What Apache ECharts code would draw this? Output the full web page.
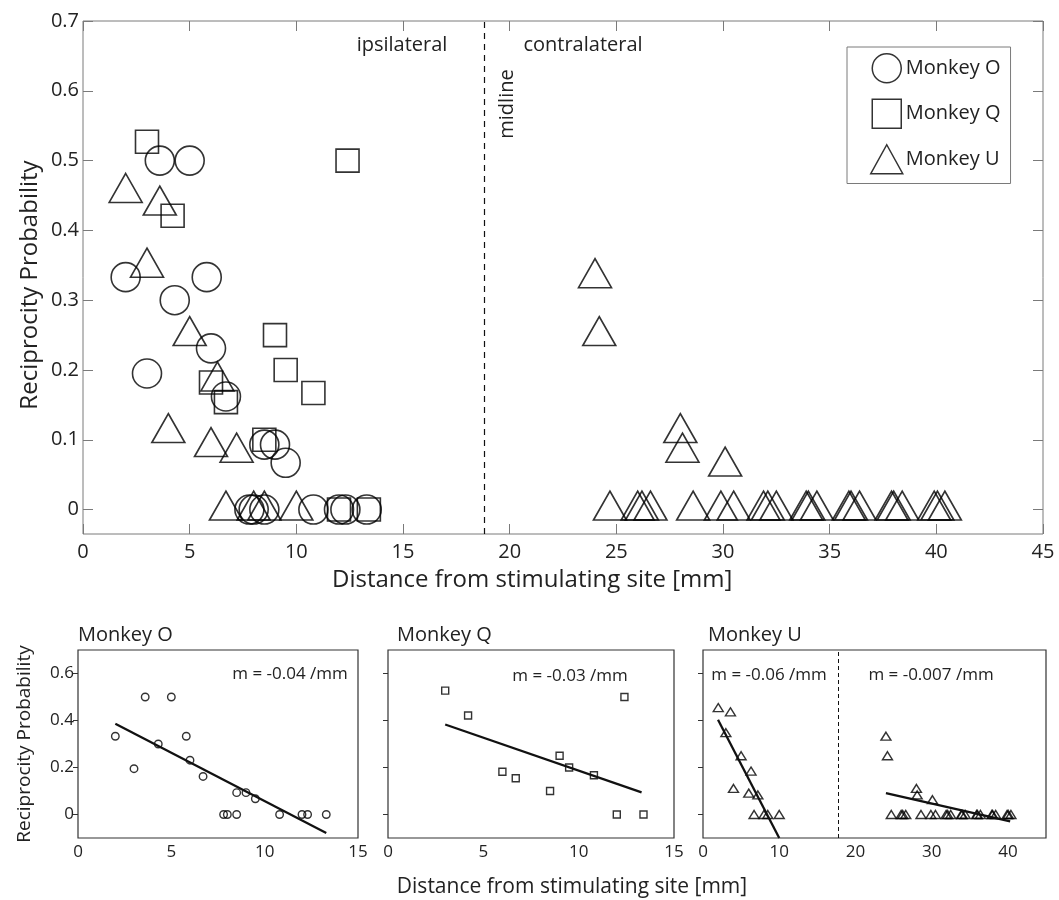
<!DOCTYPE html>
<html>
<head>
<meta charset="utf-8">
<title>Reciprocity probability vs. distance</title>
<script src="https://cdn.jsdelivr.net/npm/echarts@6/dist/echarts.min.js"></script>
<style>
  html, body { margin: 0; padding: 0; background: #fff; }
  #chart { width: 1059px; height: 900px; }
</style>
</head>
<body>
<div id="chart"></div>
<script>
// ---- Data: distance from stimulating site [mm] and reciprocity probability ----
const monkeyO_x = [3.6, 5.0, 2.0, 5.8, 4.3, 6.0, 3.0, 6.7, 8.5, 9.0, 9.5, 7.8, 8.0, 8.5, 10.8, 12.0, 12.3, 13.3];
const monkeyO_y = [0.5, 0.5, 0.333, 0.333, 0.3, 0.231, 0.195, 0.162, 0.093, 0.093, 0.067, 0, 0, 0, 0, 0, 0, 0];

const monkeyQ_x = [3.0, 4.2, 12.4, 9.0, 9.5, 10.8, 6.0, 6.7, 8.5, 12.0, 13.4];
const monkeyQ_y = [0.527, 0.421, 0.5, 0.25, 0.2, 0.167, 0.182, 0.154, 0.1, 0, 0];

// Monkey U: ipsilateral then contralateral sites
const monkeyU_x = [2.0, 3.6, 3.0, 5.0, 6.3, 4.0, 6.0, 7.2, 6.7, 8.0, 8.5, 10.0,
                   24.0, 24.2, 28.0, 28.1, 30.1,
                   24.7, 26.0, 26.2, 26.6, 28.6, 29.9, 30.5, 31.9, 32.1, 32.5, 33.9, 34.0, 34.4,
                   35.9, 36.0, 36.4, 37.9, 38.0, 38.4, 39.9, 40.05, 40.4];
const monkeyU_y = [0.455, 0.437, 0.348, 0.25, 0.185, 0.111, 0.091, 0.083, 0, 0, 0, 0,
                   0.333, 0.25, 0.111, 0.083, 0.063,
                   0, 0, 0, 0, 0, 0, 0, 0, 0, 0, 0, 0, 0,
                   0, 0, 0, 0, 0, 0, 0, 0, 0];

// Linear fits (end points of each fitted segment)
const fitO_x = [2.0, 13.3];   const fitO_y = [0.386, -0.079];
const fitQ_x = [3.0, 13.3];   const fitQ_y = [0.383, 0.094];
const fitUi_x = [1.97, 10.0]; const fitUi_y = [0.403, -0.1];
const fitUc_x = [24.0, 40.3]; const fitUc_y = [0.091, -0.029];

const slopeLabels = ['m = -0.04 /mm', 'm = -0.03 /mm', 'm = -0.06 /mm', 'm = -0.007 /mm'];
const monkeyNames = ['Monkey O', 'Monkey Q', 'Monkey U'];
const xTitle = 'Distance from stimulating site [mm]';
const yTitle = 'Reciprocity Probability';

const midlineMain = 18.8;
const midlineU = 17.8;

const mainYTicks = [0, 0.1, 0.2, 0.3, 0.4, 0.5, 0.6, 0.7];
const smallYTicks = [0, 0.2, 0.4, 0.6];
const smallUXTicks = [0, 10, 20, 30, 40];

// ---- helpers ----
const FONT = 'Open Sans';
const TXT = '#222';
const pairs = (xs, ys) => xs.map((x, i) => [x, ys[i]]);
const hollow = (w) => ({ color: 'transparent', borderColor: '#000', borderWidth: w });
const font = (px) => px + 'px "Open Sans"';
const label = (text, x, y, px, extra, align) => Object.assign({
  type: 'text', x: x, y: y,
  style: { text: text, font: font(px), fill: TXT, align: align || 'center', verticalAlign: 'middle' }
}, extra || {});

const chart = echarts.init(document.getElementById('chart'), null, { renderer: 'canvas' });

const axisGray = '#7a7a7a';
const dark = '#333';

function smallX(grid, max, opts) {
  return Object.assign({
    type: 'value', gridIndex: grid, min: 0, max: max, interval: 5,
    axisLine: { show: false, onZero: false }, axisTick: { show: false }, splitLine: { show: false },
    axisLabel: { fontFamily: FONT, fontSize: 17, color: TXT, margin: 6 }
  }, opts || {});
}
function smallY(grid, showLabels, opts) {
  return Object.assign({
    type: 'value', gridIndex: grid, min: -0.1, max: 0.7,
    axisLine: { show: false, onZero: false }, splitLine: { show: false },
    axisTick: { show: true, inside: false, length: 5, customValues: smallYTicks, lineStyle: { color: dark } },
    axisLabel: { show: showLabels, customValues: smallYTicks, fontFamily: FONT, fontSize: 17, color: TXT, margin: 4 }
  }, opts || {});
}

const option = {
  backgroundColor: '#fff',
  animation: false,
  textStyle: { fontFamily: FONT },
  grid: [
    { left: 83, top: 21, width: 960, height: 513, show: true, borderColor: axisGray, borderWidth: 1 },
    { left: 78, top: 650, width: 280, height: 188, show: true, borderColor: dark, borderWidth: 1.2 },
    { left: 388, top: 650, width: 286, height: 188, show: true, borderColor: dark, borderWidth: 1.2 },
    { left: 703, top: 650, width: 343, height: 188, show: true, borderColor: dark, borderWidth: 1.2 }
  ],
  legend: {
    orient: 'vertical', left: 847, top: 47,
    padding: [6, 10, 9, 23], itemGap: 15, itemWidth: 32, itemHeight: 29,
    borderColor: axisGray, borderWidth: 1, selectedMode: false,
    textStyle: { fontFamily: FONT, fontSize: 20, color: TXT, padding: [0, 0, 0, -2] },
    data: [
      { name: monkeyNames[0], icon: 'circle', itemStyle: hollow(1.5) },
      { name: monkeyNames[1], icon: 'path://M0,0L10,0L10,10L0,10Z', itemStyle: hollow(1.5) },
      { name: monkeyNames[2], icon: 'triangle', itemStyle: hollow(1.5) }
    ]
  },
  xAxis: [
    { type: 'value', gridIndex: 0, min: 0, max: 45, interval: 5, position: 'bottom',
      axisLine: { show: false, onZero: false }, splitLine: { show: false },
      axisTick: { inside: true, length: 10, lineStyle: { color: axisGray } },
      axisLabel: { fontFamily: FONT, fontSize: 20, color: TXT, margin: 8 } },
    { type: 'value', gridIndex: 0, min: 0, max: 45, interval: 5, position: 'top',
      axisLine: { show: false, onZero: false }, splitLine: { show: false }, axisLabel: { show: false },
      axisTick: { inside: true, length: 10, lineStyle: { color: axisGray } } },
    smallX(1, 15),
    smallX(2, 15),
    smallX(3, 45, { interval: 10, axisLabel: { customValues: smallUXTicks, fontFamily: FONT, fontSize: 17, color: TXT, margin: 6 } })
  ],
  yAxis: [
    { type: 'value', gridIndex: 0, min: -0.035, max: 0.7, position: 'left',
      axisLine: { show: false, onZero: false }, splitLine: { show: false },
      axisTick: { inside: true, length: 10, customValues: mainYTicks, lineStyle: { color: axisGray } },
      axisLabel: { customValues: mainYTicks, fontFamily: FONT, fontSize: 20, color: TXT, margin: 4 } },
    { type: 'value', gridIndex: 0, min: -0.035, max: 0.7, position: 'right',
      axisLine: { show: false, onZero: false }, splitLine: { show: false }, axisLabel: { show: false },
      axisTick: { inside: true, length: 10, customValues: mainYTicks, lineStyle: { color: axisGray } } },
    smallY(1, true, { name: yTitle, nameLocation: 'middle', nameGap: 44,
      nameTextStyle: { fontFamily: FONT, fontSize: 19, color: TXT } }),
    smallY(2, false),
    smallY(3, false)
  ],
  graphic: [
    // axis titles of the overview panel
    label(xTitle, 332, 580, 24, null, 'left'),
    label(yTitle, 30, 285, 24, { rotation: Math.PI / 2 }),
    // region annotations
    label('ipsilateral', 402, 45, 20),
    label('contralateral', 583, 45, 20),
    label('midline', 507, 104, 20, { rotation: Math.PI / 2 }),
    // small panels: titles, shared x title, slopes
    label(monkeyNames[0], 78, 635, 20, null, 'left'),
    label(monkeyNames[1], 397, 635, 20, null, 'left'),
    label(monkeyNames[2], 708, 635, 20, null, 'left'),
    label(xTitle, 572, 887, 21),
    label(slopeLabels[0], 290, 674, 17),
    label(slopeLabels[1], 570, 676, 17),
    label(slopeLabels[2], 769, 675, 17),
    label(slopeLabels[3], 931, 675, 17)
  ],
  series: [
    // overview panel
    { name: monkeyNames[0], type: 'scatter', xAxisIndex: 0, yAxisIndex: 0,
      symbol: 'circle', symbolSize: 29, itemStyle: hollow(1.6), data: pairs(monkeyO_x, monkeyO_y), z: 3,
      markLine: { silent: true, symbol: 'none', label: { show: false },
        lineStyle: { color: '#111', width: 1.2, type: [6, 5] }, data: [{ xAxis: midlineMain }] } },
    { name: monkeyNames[1], type: 'scatter', xAxisIndex: 0, yAxisIndex: 0,
      symbol: 'rect', symbolSize: 23, itemStyle: hollow(1.6), data: pairs(monkeyQ_x, monkeyQ_y), z: 3 },
    { name: monkeyNames[2], type: 'scatter', xAxisIndex: 0, yAxisIndex: 0,
      symbol: 'triangle', symbolSize: [33, 29], symbolOffset: [0, -4], itemStyle: hollow(1.6),
      data: pairs(monkeyU_x, monkeyU_y), z: 3 },

    // Monkey O panel
    { name: monkeyNames[0], type: 'scatter', xAxisIndex: 2, yAxisIndex: 2,
      symbol: 'circle', symbolSize: 7.5, itemStyle: hollow(1.4), data: pairs(monkeyO_x, monkeyO_y) },
    { type: 'line', xAxisIndex: 2, yAxisIndex: 2, symbol: 'none', silent: true,
      lineStyle: { color: '#111', width: 2.3 }, data: pairs(fitO_x, fitO_y) },

    // Monkey Q panel
    { name: monkeyNames[1], type: 'scatter', xAxisIndex: 3, yAxisIndex: 3,
      symbol: 'rect', symbolSize: 7, itemStyle: hollow(1.4), data: pairs(monkeyQ_x, monkeyQ_y) },
    { type: 'line', xAxisIndex: 3, yAxisIndex: 3, symbol: 'none', silent: true,
      lineStyle: { color: '#111', width: 2.3 }, data: pairs(fitQ_x, fitQ_y) },

    // Monkey U panel
    { name: monkeyNames[2], type: 'scatter', xAxisIndex: 4, yAxisIndex: 4,
      symbol: 'triangle', symbolSize: [10, 8], itemStyle: hollow(1.4), data: pairs(monkeyU_x, monkeyU_y),
      markLine: { silent: true, symbol: 'none', label: { show: false },
        lineStyle: { color: '#111', width: 1, type: [4, 3] }, data: [{ xAxis: midlineU }] } },
    { type: 'line', xAxisIndex: 4, yAxisIndex: 4, symbol: 'none', silent: true,
      lineStyle: { color: '#111', width: 2.3 }, data: pairs(fitUi_x, fitUi_y) },
    { type: 'line', xAxisIndex: 4, yAxisIndex: 4, symbol: 'none', silent: true,
      lineStyle: { color: '#111', width: 2.3 }, data: pairs(fitUc_x, fitUc_y) }
  ]
};

chart.setOption(option);
</script>
</body>
</html>
